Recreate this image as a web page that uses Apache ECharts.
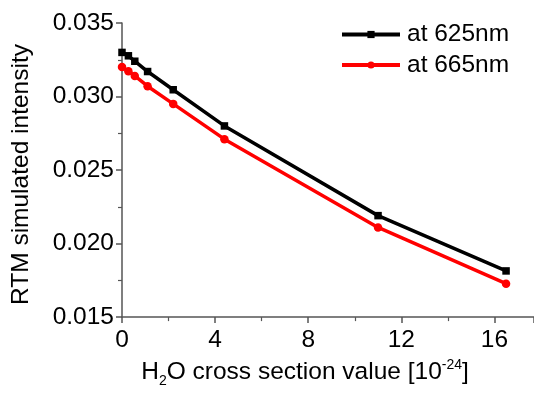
<!DOCTYPE html>
<html>
<head>
<meta charset="utf-8">
<script src="https://cdn.jsdelivr.net/npm/echarts@6/dist/echarts.min.js"></script>
<style>
  html, body { margin: 0; padding: 0; background: #fff; }
  #chart { width: 534px; height: 393px; }
</style>
</head>
<body>
<div id="chart"></div>
<script>
// H2O cross section values [1e-24]
const crossSection = [0, 0.275, 0.55, 1.1, 2.2, 4.4, 11, 16.5];
// RTM simulated intensity
const at625 = [0.0330, 0.03277, 0.0324, 0.0317, 0.03046, 0.0280, 0.0219, 0.01814];
const at665 = [0.0320, 0.03172, 0.0314, 0.0307, 0.0295, 0.0271, 0.0211, 0.01727];
const seriesNames = ["at 625nm", "at 665nm"];

const pairs = (xs, ys) => xs.map((x, i) => [x, ys[i]]);
const font = "Liberation Sans, Arial, sans-serif";
const fs = 24.5;
const axisGray = "#555";

const chart = echarts.init(document.getElementById("chart"), null, { renderer: "canvas" });

const option = {
  animation: false,
  backgroundColor: "#fff",
  textStyle: { fontFamily: font },
  grid: { left: 122, top: 23, right: 0, bottom: 65, containLabel: false },
  legend: {
    left: 335,
    top: 17,
    orient: "vertical",
    itemWidth: 58,
    itemHeight: 9,
    itemGap: 5.5,
    lineStyle: { width: 4 },
    textStyle: { fontFamily: font, fontSize: fs, color: "#000", padding: [0, 0, 0, 2] },
    data: seriesNames
  },
  xAxis: {
    type: "value",
    min: 0,
    max: 17.7,
    interval: 4,
    name: "{n|H}{s|2}{n|O cross section value [10}{p|-24}{n|]}",
    nameLocation: "middle",
    nameGap: 29,
    nameTextStyle: {
      padding: [0, 46, 0, 0],
      rich: {
        n: { fontFamily: font, fontSize: fs, color: "#000" },
        s: { fontFamily: font, fontSize: 14, color: "#000", padding: [18, 0, 0, 0] },
        p: { fontFamily: font, fontSize: 14, color: "#000", padding: [0, 0, 14, 0] }
      }
    },
    axisLine: { show: true, lineStyle: { color: axisGray, width: 1.5 } },
    axisTick: { show: true, inside: false, length: 6, lineStyle: { color: axisGray, width: 1.5 } },
    minorTick: { show: true, splitNumber: 2, length: 4, lineStyle: { color: axisGray, width: 1.2 } },
    axisLabel: {
      fontFamily: font, fontSize: fs, color: "#000", margin: 11,
      showMaxLabel: false
    },
    splitLine: { show: false }
  },
  yAxis: {
    type: "value",
    min: 0.015,
    max: 0.035,
    interval: 0.005,
    name: "RTM simulated intensity",
    nameLocation: "middle",
    nameGap: 88,
    nameTextStyle: { fontFamily: font, fontSize: fs, color: "#000", padding: [0, 9, 0, 0] },
    axisLine: { show: true, lineStyle: { color: axisGray, width: 1.5 } },
    axisTick: { show: true, inside: false, length: 6, lineStyle: { color: axisGray, width: 1.5 } },
    minorTick: { show: true, splitNumber: 2, length: 4, lineStyle: { color: axisGray, width: 1.2 } },
    axisLabel: {
      fontFamily: font, fontSize: fs, color: "#000", margin: 8,
      formatter: v => v.toFixed(3)
    },
    splitLine: { show: false }
  },
  series: [
    {
      name: seriesNames[0],
      type: "line",
      data: pairs(crossSection, at625),
      symbol: "rect",
      symbolSize: 7.5,
      color: "#000",
      lineStyle: { color: "#000", width: 3.5 },
      itemStyle: { color: "#000" }
    },
    {
      name: seriesNames[1],
      type: "line",
      data: pairs(crossSection, at665),
      symbol: "circle",
      symbolSize: 8.5,
      color: "#ff0000",
      lineStyle: { color: "#ff0000", width: 3.5 },
      itemStyle: { color: "#ff0000" }
    }
  ]
};

chart.setOption(option);
</script>
</body>
</html>
